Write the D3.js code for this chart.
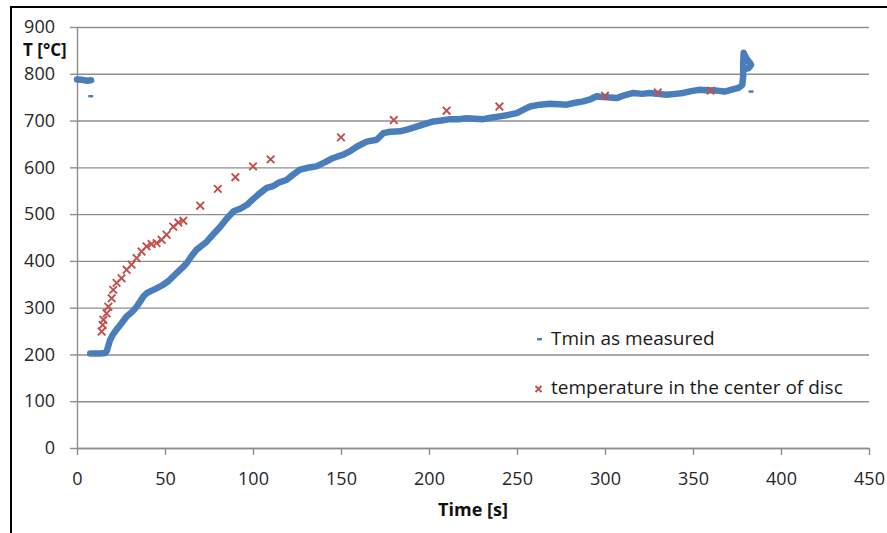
<!DOCTYPE html>
<meta charset="utf-8">
<head>
    <style type="text/css">
        body { margin: 0; background: #fff; }
        svg { display: block; font-family: "Open Sans", sans-serif; }
        .tick text { fill: #262626; font-size: 18px; }
        .axis path, .axis line { stroke: #8e8e8e; stroke-width: 1.4; }
        .grid line { stroke: #8e8e8e; stroke-width: 1.4; }
        .grid path { display: none; }
        .tmin { fill: none; stroke: #4a7ebb; stroke-width: 6.5; stroke-linejoin: round; stroke-linecap: round; }
        .cross { stroke: #c0504d; stroke-width: 1.9; fill: none; }
        .legend text { font-size: 19px; fill: #1a1a1a; }
        .title { font-weight: bold; font-size: 17px; fill: #111; }
    </style>
</head>
<body>
    <script src="https://cdnjs.cloudflare.com/ajax/libs/d3/7.8.5/d3.min.js"></script>
    <script>
        // Tmin as measured (blue, dense)
        var tminTime = [0, 3, 6, 8, null,
            7.5, 10, 13, 16, 17, 18.8, 20.5, 22.4, 25, 28.2, 31, 33.9, 36, 37.7, 40, 43.4, 46, 49, 52, 56.6,
            60, 62.3, 65, 68, 71, 73.7, 77, 81.4, 85, 89, 93, 96.6, 100, 104, 107.8, 111.5, 115, 119,
            123, 126.7, 131, 136, 141, 145.6, 151.3, 155, 158.9, 164.6, 170.3, 174, 178, 183.5, 188,
            193, 197, 202.5, 207, 212, 217, 221.4, 226, 230.8, 235, 240.3, 245, 249.8, 254, 257.4,
            263, 268.8, 274, 278.2, 283, 287.7, 292, 295.3, 297, 301, 306.6, 311, 316, 321, 325.6,
            330, 335, 340, 344.5, 349, 354, 358, 363.5, 368, 373, 376, 378, 378.5, 378.5, 378.8,
            380, 382, 383, 381.5, 379.5];
        var tminTemp = [788, 787, 785, 786, null,
            202, 202, 202, 203, 208, 231, 243, 253, 265, 281, 290, 302, 314, 324, 332, 338, 343, 349, 357, 374,
            386, 395, 410, 424, 433, 441, 455, 473, 490, 506, 512, 520, 532, 545, 556, 560, 568, 573,
            585, 595, 599, 602, 611, 620, 627, 634, 644, 655, 659, 673, 676, 677, 681,
            687, 692, 698, 700, 703, 703, 705, 704, 703, 706, 709, 712, 716, 724, 730,
            734, 736, 735, 734, 738, 741, 746, 752, 751, 750, 748, 754, 759, 757, 759,
            757, 755, 757, 759, 763, 766, 765, 764, 762, 767, 770, 776, 795, 820, 845,
            835, 825, 819, 812, 810];
        // lone Tmin points
        var tminLoneTime = [7.8, 383];
        var tminLoneTemp = [752, 762];

        // temperature in the center of disc (red crosses)
        var centerTime = [14, 14.6, 15, 16.8, 17.8, 19.7, 20.6, 22.5, 25.3, 28.2, 31, 33.9, 36.7, 39.5,
            42.4, 45.2, 48.1, 50.9, 54.7, 57.6, 60.4, 70, 80, 90, 100, 110, 150, 180, 210, 240, 300, 330, 360];
        var centerTemp = [249, 263, 274, 288, 302, 320, 338, 353, 363, 381, 392, 406, 420, 431,
            436, 438, 445, 456, 473, 482, 486, 518, 554, 579, 602, 617, 664, 701, 721, 730, 753, 760, 764];

        var xTicks = [0, 50, 100, 150, 200, 250, 300, 350, 400, 450];
        var yTicks = [0, 100, 200, 300, 400, 500, 600, 700, 800, 900];

        var width = 887, height = 533;
        var margin = { top: 27, right: 18, bottom: 85, left: 77 };

        var xScale = d3.scaleLinear()
            .domain([0, 450])
            .range([margin.left, width - margin.right]);

        var yScale = d3.scaleLinear()
            .domain([0, 900])
            .range([height - margin.bottom, margin.top]);

        var svg = d3.select("body").append("svg")
            .attr("width", width)
            .attr("height", height);

        // frame of the picture (left and top only)
        svg.append("path")
            .attr("d", "M11," + height + "V7H" + width)
            .attr("fill", "none")
            .attr("stroke", "#000")
            .attr("stroke-width", 2);

        // horizontal gridlines
        svg.append("g")
            .attr("class", "grid")
            .attr("transform", "translate(" + margin.left + ",0)")
            .call(d3.axisLeft(yScale).tickValues(yTicks)
                .tickSize(-(xScale.range()[1] - margin.left)).tickFormat(""));

        // y axis
        svg.append("g")
            .attr("class", "y axis")
            .attr("transform", "translate(" + margin.left + ",0)")
            .call(d3.axisLeft(yScale).tickValues(yTicks).tickSize(7).tickSizeOuter(0).tickPadding(15));

        // x axis
        svg.append("g")
            .attr("class", "x axis")
            .attr("transform", "translate(0," + yScale(0) + ")")
            .call(d3.axisBottom(xScale).tickValues(xTicks).tickSize(7).tickSizeOuter(0).tickPadding(17));

        svg.selectAll(".axis").attr("font-family", null).attr("font-size", null);

        // axis titles
        svg.append("text")
            .attr("class", "title")
            .attr("x", 23)
            .attr("y", 56)
            .text("T [°C]");

        svg.append("text")
            .attr("class", "title")
            .attr("x", 473)
            .attr("y", 516)
            .attr("text-anchor", "middle")
            .style("font-size", "18px")
            .text("Time [s]");

        // blue series as a thick band
        var tmin = tminTime.map(function (t, i) { return [t, tminTemp[i]]; });
        var line = d3.line()
            .defined(function (d) { return d[0] != null; })
            .x(function (d) { return xScale(d[0]); })
            .y(function (d) { return yScale(d[1]); });

        svg.append("path")
            .datum(tmin)
            .attr("class", "tmin")
            .attr("d", line);

        svg.selectAll(".lone")
            .data(tminLoneTime)
            .enter().append("rect")
            .attr("class", "lone")
            .attr("x", function (d) { return xScale(d) - 2.5; })
            .attr("y", function (d, i) { return yScale(tminLoneTemp[i]) - 1.2; })
            .attr("width", 5)
            .attr("height", 2.4)
            .attr("fill", "#4a7ebb");

        // red crosses
        var s = 3.8;
        function cross(g, x, y) {
            g.append("path")
                .attr("class", "cross")
                .attr("d", "M" + (x - s) + "," + (y - s) + "L" + (x + s) + "," + (y + s) +
                    "M" + (x - s) + "," + (y + s) + "L" + (x + s) + "," + (y - s));
        }
        var crosses = svg.append("g");
        centerTime.forEach(function (t, i) {
            cross(crosses, xScale(t), yScale(centerTemp[i]));
        });

        // legend
        var legend = svg.append("g").attr("class", "legend");
        legend.append("rect")
            .attr("x", 537).attr("y", 338).attr("width", 5).attr("height", 2.4)
            .attr("fill", "#4a7ebb");
        legend.append("text")
            .attr("x", 551).attr("y", 345)
            .text("Tmin as measured");
        s = 3;
        cross(legend, 538.5, 389);
        legend.append("text")
            .attr("x", 551).attr("y", 394)
            .text("temperature in the center of disc");
    </script>
</body>
